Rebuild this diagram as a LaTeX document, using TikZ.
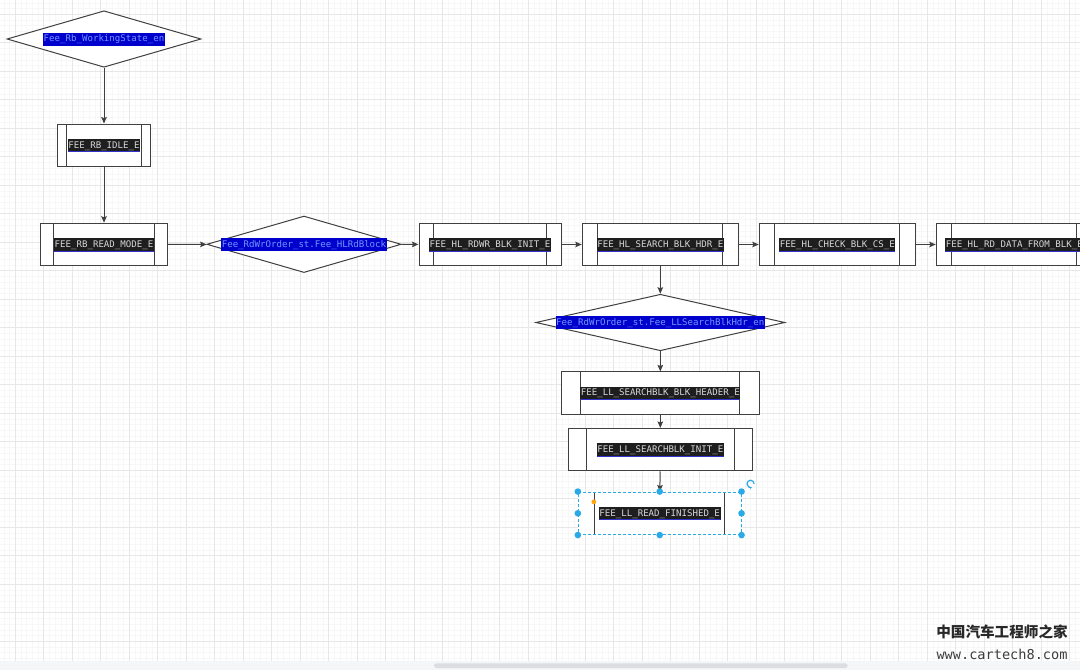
\documentclass[tikz,border=0pt]{standalone}
\usepackage{fontspec}
\newfontfamily\codefont{DejaVu Sans Mono}
\newfontfamily\cjkfont{Noto Sans CJK SC}
\definecolor{lncol}{RGB}{64,64,64}
\definecolor{codebg}{RGB}{30,30,30}
\definecolor{codefg}{RGB}{215,215,215}
\definecolor{codeul}{RGB}{50,50,200}
\definecolor{varbg}{RGB}{0,0,205}
\definecolor{varfg}{RGB}{115,150,255}
\definecolor{gridmaj}{RGB}{231,231,231}
\definecolor{gridmin}{RGB}{247,247,247}
\definecolor{selblue}{RGB}{41,170,230}
\definecolor{selorange}{RGB}{255,165,20}
\definecolor{barbg}{RGB}{245,246,248}
\definecolor{barfg}{RGB}{220,221,224}
\definecolor{markgray}{RGB}{40,40,40}
\usetikzlibrary{arrows.meta,positioning,shapes.geometric,calc}

\begin{document}
\begin{tikzpicture}[x=1pt,y=-1pt,
  procbox/.style={draw=lncol,line width=1pt,fill=white,inner sep=0pt,minimum height=42.5pt,
    path picture={\draw[lncol,line width=1pt,solid]
      ($(path picture bounding box.north west)!0.1!(path picture bounding box.north east)$) --
      ($(path picture bounding box.south west)!0.1!(path picture bounding box.south east)$)
      ($(path picture bounding box.north west)!0.9!(path picture bounding box.north east)$) --
      ($(path picture bounding box.south west)!0.9!(path picture bounding box.south east)$);}},
  decbox/.style={diamond,draw=lncol,line width=1pt,fill=white,inner sep=0pt,minimum height=56.5pt},
  hlbase/.style={font=\codefont\fontsize{9.1}{10}\selectfont,inner xsep=0.6pt,inner ysep=1.2pt,
    text height=8pt,text depth=2.6pt},
  codetxt/.style={hlbase,fill=codebg,text=codefg,
    path picture={\draw[codeul,line width=1pt] (path picture bounding box.south west) --
      (path picture bounding box.south east);}},
  vartxt/.style={hlbase,fill=varbg,text=varfg},
  flow/.style={draw=lncol,line width=1pt,-{Stealth[length=6.5pt,width=5.5pt,inset=1pt]}},
  handle/.style={fill=selblue}]
  \useasboundingbox (0,0) rectangle (1080,670);
  \clip (0,0) rectangle (1080,670);

  % canvas grid
  \fill[white] (0,0) rectangle (1080,670);
  \foreach \i in {0,...,192} {
    \draw[gridmin,line width=0.8pt] ({-13.2+5.7*\i},0) -- ({-13.2+5.7*\i},670);
  }
  \foreach \i in {0,...,121} {
    \draw[gridmin,line width=0.8pt] (0,{-14.2+5.7*\i}) -- (1080,{-14.2+5.7*\i});
  }
  \foreach \i in {0,...,38} {
    \draw[gridmaj,line width=1pt] ({15.3+28.5*\i},0) -- ({15.3+28.5*\i},670);
  }
  \foreach \i in {0,...,23} {
    \draw[gridmaj,line width=1pt] (0,{14.3+28.5*\i}) -- (1080,{14.3+28.5*\i});
  }

  % states
  \node[decbox,minimum width=194pt] (ws) at (104,39) {};
  \node[procbox,minimum width=93pt] (idle) at (104,145.3) {};
  \node[procbox,minimum width=127.3pt] (rdmode) at (104,244.5) {};
  \node[decbox,minimum width=194.3pt] (hlrd) at (304,244.3) {};
  \node[procbox,minimum width=142pt] (rdwrinit) at (490,244.5) {};
  \node[procbox,minimum width=156pt] (srchhdr) at (660.3,244.5) {};
  \node[procbox,minimum width=156pt] (chkcs) at (837.3,244.5) {};
  \node[procbox,minimum width=156pt] (rddata) at (1014.3,244.5) {};
  \node[decbox,minimum width=249pt] (llsrch) at (660.3,322.5) {};
  \node[procbox,minimum width=198.6pt] (llhdr) at (660.3,393.2) {};
  \node[procbox,minimum width=184.6pt] (llinit) at (660.3,449.7) {};
  \node[procbox,minimum width=162.7pt,draw=selblue,dash pattern=on 3pt off 2pt] (llfin) at (659.7,513.3) {};

  % labels
  \node[vartxt] (ws-t) at (ws) {Fee\_Rb\_WorkingState\_en};
  \node[codetxt] (idle-t) at (idle) {FEE\_RB\_IDLE\_E};
  \node[codetxt] (rdmode-t) at (rdmode) {FEE\_RB\_READ\_MODE\_E};
  \node[vartxt] (hlrd-t) at (hlrd) {Fee\_RdWrOrder\_st.Fee\_HLRdBlock};
  \node[codetxt] (rdwrinit-t) at (rdwrinit) {FEE\_HL\_RDWR\_BLK\_INIT\_E};
  \node[codetxt] (srchhdr-t) at (srchhdr) {FEE\_HL\_SEARCH\_BLK\_HDR\_E};
  \node[codetxt] (chkcs-t) at (chkcs) {FEE\_HL\_CHECK\_BLK\_CS\_E};
  \node[codetxt] (rddata-t) at (rddata) {FEE\_HL\_RD\_DATA\_FROM\_BLK\_E};
  \node[vartxt] (llsrch-t) at (llsrch) {Fee\_RdWrOrder\_st.Fee\_LLSearchBlkHdr\_en};
  \node[codetxt] (llhdr-t) at (llhdr) {FEE\_LL\_SEARCHBLK\_BLK\_HEADER\_E};
  \node[codetxt] (llinit-t) at (llinit) {FEE\_LL\_SEARCHBLK\_INIT\_E};
  \node[codetxt] (llfin-t) at (llfin) {FEE\_LL\_READ\_FINISHED\_E};

  % transitions
  \draw[flow] (ws) -- (idle);
  \draw[flow] (idle) -- (rdmode);
  \draw[flow] (rdmode) -- (hlrd);
  \draw[flow] (hlrd) -- (rdwrinit);
  \draw[flow] (rdwrinit) -- (srchhdr);
  \draw[flow] (srchhdr) -- (chkcs);
  \draw[flow] (chkcs) -- (rddata);
  \draw[flow] (srchhdr) -- (llsrch);
  \draw[flow] (llsrch) -- (llhdr);
  \draw[flow] (llhdr) -- (llinit);
  \draw[flow] (llinit) -- (llfin);

  % selection handles
  \foreach \a in {north west,north,north east,west,east,south west,south,south east} {
    \fill[handle] (llfin.\a) circle (3.3pt);
  }
  \fill[selorange] ([shift={(16,10.3)}]llfin.north west) circle (2.4pt);
  \coordinate (rot) at ([shift={(9,-7.7)}]llfin.north east);
  \draw[selblue,line width=1.2pt,-{Stealth[length=2.2pt,width=3pt]}]
    ([shift={(3.6pt,0pt)}]rot) arc[start angle=0,end angle=290,radius=3.6pt];

  % scrollbar
  \fill[barbg] (0,660.7) rectangle (1080,670);
  \fill[barfg,rounded corners=2.4pt] (434,663.3) rectangle (847.7,668);

  % watermark
  \node[text=markgray,font=\cjkfont\bfseries\fontsize{14.6}{16}\selectfont,inner sep=0pt] (mark) at (1002,632) {中国汽车工程师之家};
  \node[text=markgray!90,font=\codefont\fontsize{13.6}{15}\selectfont,inner sep=0pt] (url) at (1002,654) {www.cartech8.com};
\end{tikzpicture}
\end{document}
